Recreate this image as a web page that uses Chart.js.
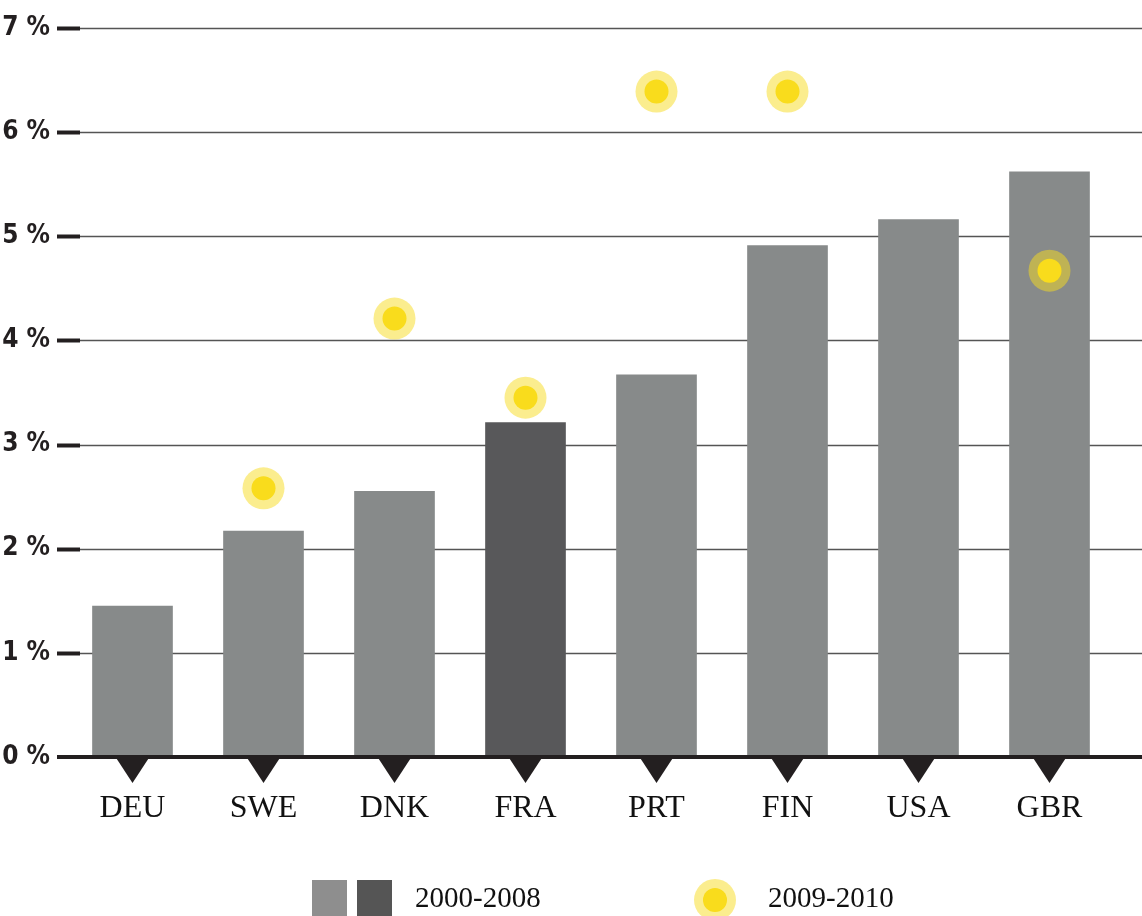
<!DOCTYPE html>
<html>
<head>
<meta charset="utf-8">
<script src="https://cdn.jsdelivr.net/npm/chart.js@4.4.0/dist/chart.umd.min.js"></script>
<style>
    html, body { margin: 0; padding: 0; background: #fff; }
    #wrap { position: relative; width: 1142px; height: 916px; }
    #chart { position: absolute; left: 0; top: 0; }
    .legend { position: absolute; font-family: 'Liberation Serif', 'Times New Roman', serif; font-size: 29px; color: #111; }
    .sq { position: absolute; width: 35px; height: 36px; }
    .dot { position: absolute; border-radius: 50%; }
</style>
</head>
<body>
<div id="wrap">
    <canvas id="chart" width="1142" height="916"></canvas>
    <div class="sq" style="left:312px; top:880px; background:#8e8e8e;"></div>
    <div class="sq" style="left:357px; top:880px; background:#555555;"></div>
    <div class="legend" style="left:415px; top:881px;">2000-2008</div>
    <div class="dot" style="left:694px; top:879px; width:42px; height:42px; background:rgba(247,220,30,0.5);"></div>
    <div class="dot" style="left:703px; top:888px; width:24px; height:24px; background:#f9dc1c;"></div>
    <div class="legend" style="left:768px; top:881px;">2009-2010</div>
</div>
<script>
const countries = ['DEU', 'SWE', 'DNK', 'FRA', 'PRT', 'FIN', 'USA', 'GBR'];
const growth2000to2008 = [1.45, 2.17, 2.55, 3.21, 3.67, 4.91, 5.16, 5.62];
const growth2009to2010 = [null, 2.58, 4.21, 3.45, 6.39, 6.39, null, 4.67];
const barColors = ['#878a8a', '#878a8a', '#878a8a', '#58585a', '#878a8a', '#878a8a', '#878a8a', '#878a8a'];
const yTicks = [0, 1, 2, 3, 4, 5, 6, 7];

// ========================
// Grid, tick marks, zero line, triangles
// ========================
const axisDecor = {
    id: 'axisDecor',
    beforeDatasetsDraw(chart) {
        const { ctx, scales: { y } } = chart;
        ctx.save();
        y.ticks.forEach(t => {
            if (t.value === 0) return;
            const py = Math.round(y.getPixelForValue(t.value)) + 0.5;
            ctx.strokeStyle = '#555';
            ctx.lineWidth = 1.5;
            ctx.beginPath();
            ctx.moveTo(80, py);
            ctx.lineTo(chart.width, py);
            ctx.stroke();
            ctx.strokeStyle = '#231f20';
            ctx.lineWidth = 4;
            ctx.beginPath();
            ctx.moveTo(57, py);
            ctx.lineTo(80, py);
            ctx.stroke();
        });
        ctx.restore();
    },
    afterDatasetsDraw(chart) {
        const { ctx, scales: { x, y } } = chart;
        const zero = y.getPixelForValue(0);
        ctx.save();
        ctx.fillStyle = '#231f20';
        countries.forEach((c, i) => {
            const px = x.getPixelForTick(i);
            ctx.beginPath();
            ctx.moveTo(px - 17, zero);
            ctx.lineTo(px + 17, zero);
            ctx.lineTo(px, zero + 26);
            ctx.closePath();
            ctx.fill();
        });
        ctx.strokeStyle = '#231f20';
        ctx.lineWidth = 4;
        ctx.beginPath();
        ctx.moveTo(57, zero);
        ctx.lineTo(chart.width, zero);
        ctx.stroke();
        ctx.restore();
    }
};

new Chart(document.getElementById('chart'), {
    type: 'bar',
    data: {
        labels: countries,
        datasets: [
            {
                type: 'line',
                label: '2009-2010',
                data: growth2009to2010,
                showLine: false,
                pointRadius: 12,
                pointBackgroundColor: '#f9dc1c',
                pointBorderWidth: 0,
                order: 1
            },
            {
                type: 'line',
                label: 'halo',
                data: growth2009to2010,
                showLine: false,
                pointRadius: 21,
                pointBackgroundColor: 'rgba(247,220,30,0.5)',
                pointBorderWidth: 0,
                order: 2
            },
            {
                label: '2000-2008',
                data: growth2000to2008,
                backgroundColor: barColors,
                barThickness: 80,
                order: 3
            }
        ]
    },
    options: {
        responsive: false,
        animation: false,
        layout: { padding: { left: 0, right: 27, top: 28, bottom: 79 } },
        plugins: { legend: { display: false }, tooltip: { enabled: false } },
        scales: {
            x: {
                grid: { display: false },
                border: { display: false },
                ticks: {
                    padding: 24,
                    color: '#111',
                    font: { family: "'Liberation Serif', 'Times New Roman', serif", size: 32 }
                },
                afterFit(scale) { scale.height = 80; }
            },
            y: {
                min: 0,
                max: 7,
                afterBuildTicks(scale) { scale.ticks = yTicks.map(v => ({ value: v })); },
                grid: { display: false },
                border: { display: false },
                ticks: {
                    padding: 9,
                    color: '#231f20',
                    font: { family: "'Liberation Sans Narrow', 'DejaVu Sans Condensed', sans-serif", size: 26, weight: 'bold' },
                    callback: v => v + ' %'
                },
                afterFit(scale) { scale.width = 67; }
            }
        }
    },
    plugins: [axisDecor]
});
</script>
</body>
</html>
